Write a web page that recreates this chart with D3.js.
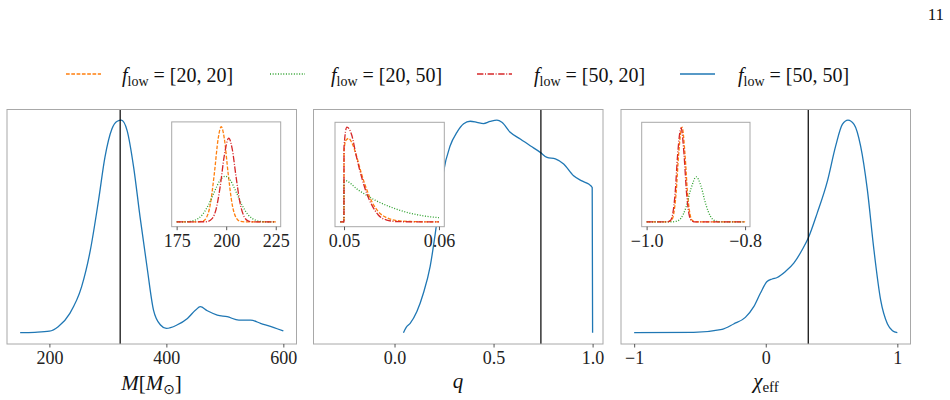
<!DOCTYPE html>
<html>
<head>
<meta charset="utf-8">
<script src="https://cdn.jsdelivr.net/npm/d3@7"></script>
<style>
  body { margin: 0; background: #fff; }
  svg { display: block; font-family: "Liberation Serif", "DejaVu Serif", serif; }
</style>
</head>
<body>
<svg id="chart"></svg>
<script>
// ---- data ----
const legendLabels = ["[20, 20]", "[20, 50]", "[50, 20]", "[50, 50]"];

// panel 1: total mass
const massX    = [150, 175, 200, 215, 235, 255, 270, 284, 295, 307, 316, 323, 333, 344, 355, 367, 378, 390, 400, 418, 436, 450, 458, 470, 487, 504, 524, 544, 561, 584, 600];
const massBlue = [0.003, 0.005, 0.01, 0.031, 0.094, 0.218, 0.39, 0.624, 0.827, 0.96, 0.995, 1.0, 0.95, 0.78, 0.546, 0.31, 0.109, 0.039, 0.023, 0.039, 0.07, 0.109, 0.125, 0.106, 0.086, 0.078, 0.062, 0.062, 0.047, 0.027, 0.011];
const massTrue = 321;
const massTicks = [200, 400, 600];

// panel 1 inset
const massInOrangeX = [175, 185, 188, 190, 192, 194, 196, 197.5, 199, 201, 203, 205, 207, 210, 225];
const massInOrange  = [0, 0, 0.007, 0.044, 0.186, 0.506, 0.882, 1, 0.882, 0.506, 0.186, 0.044, 0.007, 0, 0];
const massInGreenX  = [175, 180, 184, 188, 191, 194, 197, 199.5, 202, 205, 208, 211, 215, 219, 225];
const massInGreen   = [0, 0.002, 0.017, 0.077, 0.177, 0.315, 0.44, 0.48, 0.44, 0.315, 0.177, 0.077, 0.017, 0.002, 0];
const massInRedX    = [175, 190, 193, 195, 197, 199, 201.3, 203, 205, 207, 209, 211, 214, 225];
const massInRed     = [0, 0.002, 0.037, 0.143, 0.377, 0.69, 0.88, 0.77, 0.47, 0.198, 0.058, 0.012, 0, 0];
const massInTicks = [175, 200, 225];

// panel 2: mass ratio
const qX    = [0.045, 0.059, 0.079, 0.113, 0.146, 0.18, 0.206, 0.231, 0.247, 0.281, 0.315, 0.349, 0.382, 0.416, 0.449, 0.483, 0.517, 0.542, 0.584, 0.635, 0.685, 0.736, 0.77, 0.812, 0.854, 0.904, 0.946, 0.98, 0.998, 1.0];
const qBlue = [0.003, 0.028, 0.047, 0.102, 0.189, 0.314, 0.47, 0.645, 0.755, 0.88, 0.943, 0.983, 0.995, 0.99, 0.984, 0.994, 1.0, 0.99, 0.943, 0.912, 0.88, 0.849, 0.825, 0.818, 0.794, 0.739, 0.715, 0.70, 0.684, 0.003];
const qTrue = 0.739;
const qTicks = [0.0, 0.5, 1.0];

// panel 2 inset
const qInOrangeX = [0.0496, 0.04999, 0.05, 0.0502, 0.0505, 0.0508, 0.0513, 0.0518, 0.0524, 0.053, 0.0536, 0.0545, 0.0555, 0.057, 0.06];
const qInOrange  = [0, 0, 0.75, 0.86, 0.88, 0.84, 0.70, 0.52, 0.34, 0.2, 0.11, 0.045, 0.015, 0.005, 0];
const qInGreenX  = [0.0496, 0.04999, 0.05, 0.05151, 0.05326, 0.055, 0.05677, 0.0585, 0.06];
const qInGreen   = [0, 0, 0.44, 0.336, 0.23, 0.154, 0.097, 0.062, 0.045];
const qInRedX    = [0.0496, 0.04999, 0.05, 0.0503, 0.05081, 0.0513, 0.05184, 0.05239, 0.05292, 0.05361, 0.0545, 0.05572, 0.06];
const qInRed     = [0, 0, 0.79, 1.0, 0.916, 0.69, 0.477, 0.30, 0.18, 0.073, 0.02, 0.003, 0];
const qInTicks = [0.05, 0.06];

// panel 3: effective spin
const chiX    = [-1, -0.548, -0.332, -0.244, -0.155, -0.091, -0.041, 0.01, 0.049, 0.087, 0.15, 0.213, 0.277, 0.323, 0.391, 0.468, 0.531, 0.582, 0.625, 0.671, 0.721, 0.772, 0.822, 0.873, 0.925, 0.963, 1.0];
const chiBlue = [0.003, 0.005, 0.019, 0.044, 0.075, 0.125, 0.188, 0.243, 0.255, 0.262, 0.29, 0.329, 0.392, 0.447, 0.564, 0.713, 0.878, 0.98, 1.0, 0.98, 0.878, 0.674, 0.392, 0.157, 0.044, 0.0125, 0.003];
const chiTrue = 0.323;
const chiTicks = [-1, 0, 1];

// panel 3 inset
const chiInOrangeX = [-1, -0.96, -0.95, -0.945, -0.94, -0.935, -0.928, -0.922, -0.917, -0.912, -0.907, -0.9, -0.8];
const chiInOrange  = [0, 0, 0.014, 0.085, 0.31, 0.71, 1, 0.71, 0.31, 0.085, 0.014, 0, 0];
const chiInGreenX  = [-1, -0.95, -0.94, -0.93, -0.92, -0.91, -0.899, -0.89, -0.88, -0.87, -0.86, -0.85, -0.8];
const chiInGreen   = [0, 0.001, 0.0065, 0.041, 0.154, 0.349, 0.475, 0.386, 0.189, 0.056, 0.0098, 0.001, 0];
const chiInRedX    = [-1, -0.96, -0.952, -0.947, -0.942, -0.937, -0.930, -0.924, -0.919, -0.914, -0.909, -0.9, -0.8];
const chiInRed     = [0, 0, 0.014, 0.085, 0.31, 0.71, 0.99, 0.71, 0.31, 0.085, 0.014, 0, 0];
const chiInTicks = [-1.0, -0.8];

// ---- styles ----
const colors = { orange: "#ff7f0e", green: "#2ca02c", red: "#d62728", blue: "#1f77b4" };
const dashes = { orange: "3.7,1.6", green: "1,1.65", red: "6.4,1.6,1,1.6", blue: null };
const seriesOrder = ["orange", "green", "red", "blue"];

const width = 950, height = 400;
const svg = d3.select("#chart").attr("width", width).attr("height", height);
svg.append("rect").attr("width", width).attr("height", height).attr("fill", "#fff");

const minus = s => s.replace("-", "\u2212");

function zip(xs, ys) { return xs.map((x, i) => [x, ys[i]]); }

function drawAxes(g, x, y, w, h, ticks, fmt) {
    const ax = g.append("g")
        .attr("transform", `translate(0,${h})`)
        .call(d3.axisBottom(x).tickValues(ticks).tickFormat(fmt).tickSizeOuter(0).tickSize(3.5).tickPadding(4));
    ax.select(".domain").remove();
    ax.selectAll(".tick line").attr("stroke", "#444").attr("stroke-width", 0.9);
    ax.selectAll(".tick text")
        .attr("fill", "#222")
        .style("font-family", "'Liberation Serif', serif")
        .style("font-size", "18px");
}

function drawLine(g, x, y, pts, key) {
    const line = d3.line().x(d => x(d[0])).y(d => y(d[1])).curve(d3.curveMonotoneX);
    g.append("path")
        .datum(pts)
        .attr("fill", "none")
        .attr("stroke", colors[key])
        .attr("stroke-width", 1.3)
        .attr("stroke-dasharray", dashes[key])
        .attr("d", line);
}

function panel(opt) {
    const g = svg.append("g").attr("transform", `translate(${opt.left},${opt.top})`);
    const x = d3.scaleLinear().domain(opt.xDomain).range([0, opt.w]);
    const y = d3.scaleLinear().domain([-0.05, 1.05]).range([opt.h, 0]);

    drawLine(g, x, y, opt.blue, "blue");
    g.append("line")
        .attr("x1", x(opt.truth)).attr("x2", x(opt.truth))
        .attr("y1", 0).attr("y2", opt.h)
        .attr("stroke", "#000").attr("stroke-width", 1.2);

    g.append("rect").attr("width", opt.w).attr("height", opt.h)
        .attr("fill", "none").attr("stroke", "#a8a8a8").attr("stroke-width", 1);
    drawAxes(g, x, y, opt.w, opt.h, opt.ticks, opt.fmt);

    // inset
    const ins = opt.inset;
    const gi = svg.append("g").attr("transform", `translate(${ins.left},${ins.top})`);
    const xi = d3.scaleLinear().domain(ins.xDomain).range([0, ins.w]);
    const yi = d3.scaleLinear().domain([-0.05, 1.05]).range([ins.h, 0]);
    gi.append("rect").attr("width", ins.w).attr("height", ins.h).attr("fill", "#fff");
    drawLine(gi, xi, yi, ins.orange, "orange");
    drawLine(gi, xi, yi, ins.green, "green");
    drawLine(gi, xi, yi, ins.red, "red");
    gi.append("rect").attr("width", ins.w).attr("height", ins.h)
        .attr("fill", "none").attr("stroke", "#a8a8a8").attr("stroke-width", 1);
    drawAxes(gi, xi, yi, ins.w, ins.h, ins.ticks, ins.fmt);
}

const panelTop = 109.5, ph = 234.5, pw = 289.5;

panel({
    left: 7, top: panelTop, w: pw, h: ph,
    xDomain: [127.5, 622.5], blue: zip(massX, massBlue), truth: massTrue,
    ticks: massTicks, fmt: d3.format("d"),
    inset: { left: 171.7, top: 121.9, w: 109, h: 104.8, xDomain: [172.5, 227.5],
        orange: zip(massInOrangeX, massInOrange), green: zip(massInGreenX, massInGreen), red: zip(massInRedX, massInRed),
        ticks: massInTicks, fmt: d3.format("d") }
});

panel({
    left: 313.5, top: panelTop, w: pw, h: ph,
    xDomain: [-0.409, 1.0525], blue: zip(qX, qBlue), truth: qTrue,
    ticks: qTicks, fmt: d3.format(".1f"),
    inset: { left: 335, top: 122.3, w: 109.3, h: 104.4, xDomain: [0.04905, 0.06056],
        orange: zip(qInOrangeX, qInOrange), green: zip(qInGreenX, qInGreen), red: zip(qInRedX, qInRed),
        ticks: qInTicks, fmt: d3.format(".2f") }
});

panel({
    left: 621, top: panelTop, w: pw, h: ph,
    xDomain: [-1.1, 1.1], blue: zip(chiX, chiBlue), truth: chiTrue,
    ticks: chiTicks, fmt: d => minus(d3.format("d")(d)),
    inset: { left: 641.7, top: 122.3, w: 108.3, h: 104.4, xDomain: [-1.01, -0.79],
        orange: zip(chiInOrangeX, chiInOrange), green: zip(chiInGreenX, chiInGreen), red: zip(chiInRedX, chiInRed),
        ticks: chiInTicks, fmt: d => minus(d3.format(".1f")(d)) }
});

// axis labels
const lab = svg.append("g").attr("fill", "#111").style("font-size", "21px");
const m = lab.append("text").attr("x", 151.5).attr("y", 390).attr("text-anchor", "middle");
m.append("tspan").style("font-style", "italic").text("M");
m.append("tspan").text("[");
m.append("tspan").style("font-style", "italic").text("M");
m.append("tspan").attr("dy", 4).style("font-size", "14px").style("font-family", "'DejaVu Sans', sans-serif").text("\u2299");
m.append("tspan").attr("dy", -4).text("]");

lab.append("text").attr("x", 458).attr("y", 388).attr("text-anchor", "middle")
    .style("font-style", "italic").text("q");

const c = lab.append("text").attr("x", 766).attr("y", 388).attr("text-anchor", "middle");
c.append("tspan").style("font-style", "italic").text("\u03c7");
c.append("tspan").attr("dy", 4).style("font-size", "15px").text("eff");

// legend
const legendLineX = [66, 270, 477, 680];
const legendTextX = [122, 331, 534, 738];
const lg = svg.append("g");
seriesOrder.forEach((key, i) => {
    lg.append("line")
        .attr("x1", legendLineX[i]).attr("x2", legendLineX[i] + 35)
        .attr("y1", 74).attr("y2", 74)
        .attr("stroke", colors[key]).attr("stroke-width", 1.3)
        .attr("stroke-dasharray", dashes[key]);
    const t = lg.append("text").attr("x", legendTextX[i]).attr("y", 82)
        .attr("fill", "#111").style("font-size", "20px");
    t.append("tspan").style("font-style", "italic").text("f");
    t.append("tspan").attr("dy", 4).style("font-size", "14px").text("low");
    t.append("tspan").attr("dy", -4).text(" = " + legendLabels[i]);
});

// page number
svg.append("text").attr("x", 944).attr("y", 20).attr("text-anchor", "end")
    .attr("fill", "#111").style("font-size", "17px").text("11");
</script>
</body>
</html>
